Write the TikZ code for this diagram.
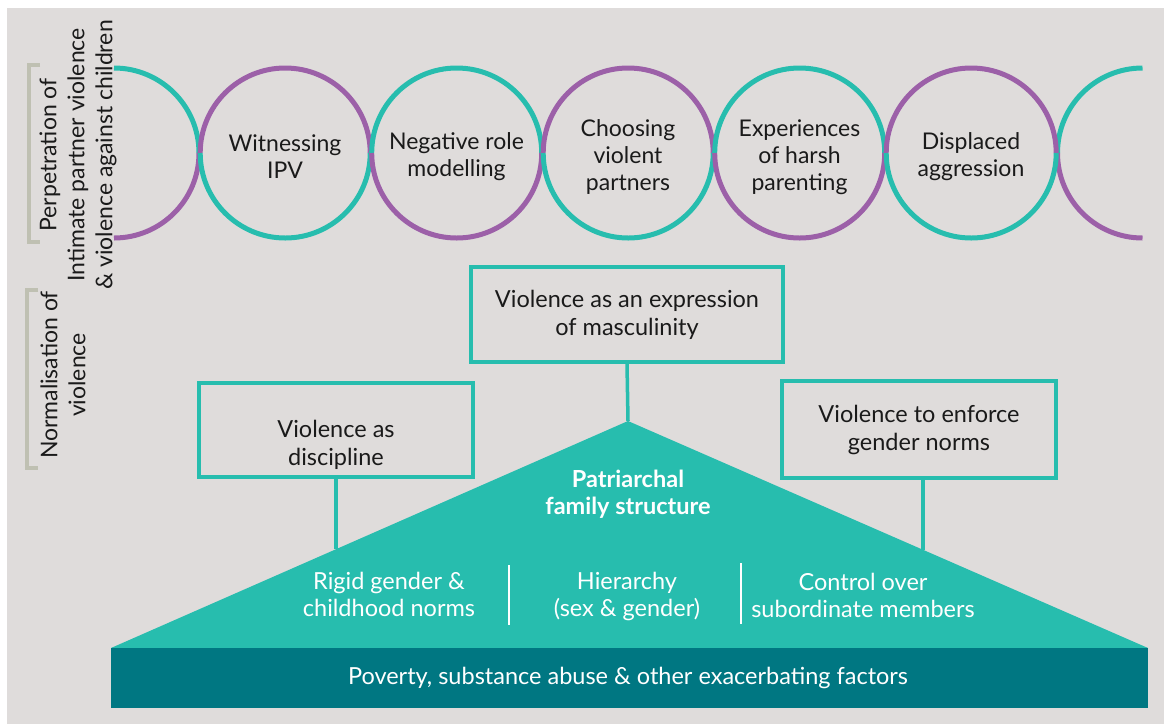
\documentclass[tikz,border=0pt]{standalone}
\usepackage{fontspec}
\setmainfont{Lato}
\definecolor{bggray}{HTML}{DFDCDB}
\definecolor{teal1}{HTML}{27BDAE}
\definecolor{purp}{HTML}{9C60A8}
\definecolor{darkteal}{HTML}{007782}
\definecolor{brk}{HTML}{BFC0B2}
\definecolor{txt}{HTML}{1A1A1A}
\tikzset{
  ring/.style={circle, minimum size=170pt, inner sep=0pt},
  ringtxt/.style={align=center, text=txt, font=\fontsize{23}{27}\selectfont},
  arcT/.style={line width=5pt, draw=teal1},
  arcP/.style={line width=5pt, draw=purp},
  normbox/.style={draw=teal1, line width=4pt, inner sep=0pt},
  boxtxt/.style={align=center, text=txt, font=\fontsize{23.5}{28}\selectfont},
  conn/.style={draw=teal1, line width=3.5pt},
  whitetxt/.style={align=center, text=white, font=\fontsize{23.5}{27}\selectfont},
  sidetxt/.style={align=center, text=txt, rotate=90, font=\fontsize{23}{28}\selectfont},
  bracket/.style={draw=brk, line width=4pt},
  divider/.style={draw=white, line width=2pt}
}
\begin{document}
\begin{tikzpicture}[x=1pt,y=-1pt]
\useasboundingbox (0,0) rectangle (1164,724);
\fill[white] (0,0) rectangle (1164,724);
\fill[bggray] (7,8) rectangle (1164,724);

% --- circles row ---
\coordinate (hl) at (114,153);
\coordinate (hr) at (1142.5,153);
\node[ring] (c1) at (285,153) {};
\node[ring] (c2) at (456.5,153) {};
\node[ring] (c3) at (628,153) {};
\node[ring] (c4) at (799.5,153) {};
\node[ring] (c5) at (971,153) {};

% left half circle
\draw[arcT] (hl) ++(0,-85) arc[start angle=-90, end angle=0, radius=85];
\draw[arcP] (hl) ++(85,0) arc[start angle=0, end angle=90, radius=85];
% right half circle
\draw[arcT] (hr) ++(0,-85) arc[start angle=-90, end angle=-180, radius=85];
\draw[arcP] (hr) ++(-85,0) arc[start angle=180, end angle=90, radius=85];
% full circles (top, bottom)
\draw[arcP] (c1.east) arc[start angle=0, end angle=-180, radius=85];
\draw[arcT] (c1.east) arc[start angle=0, end angle=180, radius=85];
\draw[arcT] (c2.east) arc[start angle=0, end angle=-180, radius=85];
\draw[arcP] (c2.east) arc[start angle=0, end angle=180, radius=85];
\draw[arcP] (c3.east) arc[start angle=0, end angle=-180, radius=85];
\draw[arcT] (c3.east) arc[start angle=0, end angle=180, radius=85];
\draw[arcT] (c4.east) arc[start angle=0, end angle=-180, radius=85];
\draw[arcP] (c4.east) arc[start angle=0, end angle=180, radius=85];
\draw[arcP] (c5.east) arc[start angle=0, end angle=-180, radius=85];
\draw[arcT] (c5.east) arc[start angle=0, end angle=180, radius=85];

\node[ringtxt] (t1) at ([yshift=-4pt]c1.center) {Witnessing\\IPV};
\node[ringtxt] (t2) at ([yshift=-4pt]c2.center) {Negative role\\modelling};
\node[ringtxt] (t3) at ([yshift=-4pt]c3.center) {Choosing\\violent\\partners};
\node[ringtxt] (t4) at ([yshift=-4pt]c4.center) {Experiences\\of harsh\\parenting};
\node[ringtxt] (t5) at ([yshift=-4pt]c5.center) {Displaced\\aggression};

% --- side labels ---
\draw[bracket] (40,65) -- (29,65) -- (29,242) -- (40,242);
\draw[bracket] (38,290) -- (27,290) -- (27,468) -- (38,468);
\node[sidetxt] (s1) at (78,155) {Perpetration of\\Intimate partner violence\\\& violence against children};
\node[sidetxt] (s2) at (63,375) {Normalisation of\\violence};

% --- pyramid ---
\coordinate (apex) at (628,421);
\coordinate (bl) at (111,648);
\coordinate (br) at (1148,648);
\fill[teal1] (bl) -- (apex) -- (br) -- cycle;
\fill[darkteal] (111,648) rectangle (1148,708);
\node[whitetxt] (pov) at (628,678) {Poverty, substance abuse \& other exacerbating factors};

\node[whitetxt, font=\fontsize{23.5}{27}\selectfont\bfseries] (pat) at (628,494) {Patriarchal\\family structure};
\node[whitetxt] (rg) at (389,594) {Rigid gender \&\\childhood norms};
\node[whitetxt] (hi) at (627,596) {Hierarchy\\(sex \& gender)};
\node[whitetxt] (co) at (863,595) {Control over\\subordinate members};
\coordinate (d1a) at (509,565);
\coordinate (d1b) at (509,625);
\coordinate (d2a) at (741,563);
\coordinate (d2b) at (741,624);
\draw[divider] (d1a) -- (d1b);
\draw[divider] (d2a) -- (d2b);

% --- boxes ---
\node[normbox, minimum width=312pt, minimum height=95pt] (bm) at (627,314.5) {};
\node[boxtxt] (bmt) at (bm.center) {Violence as an expression\\of masculinity};
\node[normbox, minimum width=274pt, minimum height=94pt] (bd) at (336,430) {};
\node[boxtxt] (bdt) at ([yshift=-15pt]bd.center) {Violence as\\discipline};
\node[normbox, minimum width=274pt, minimum height=97pt] (bg) at (919,429.5) {};
\node[boxtxt] (bgt) at (bg.center) {Violence to enforce\\gender norms};

\coordinate (ld) at (336,549);
\coordinate (rd) at (923,550);
\draw[conn] (bm.south) -- (apex);
\draw[conn] (bd.south) -- (ld);
\draw[conn] (bg.south -| rd) -- (rd);
\end{tikzpicture}
\end{document}
